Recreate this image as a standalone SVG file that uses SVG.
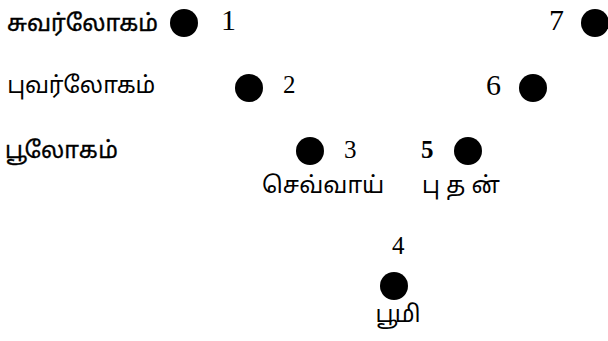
<svg xmlns="http://www.w3.org/2000/svg" width="608" height="341" viewBox="0 0 608 341">
<style>
.dot{fill:#000}
.num{font-family:"Liberation Serif","DejaVu Serif",serif;font-size:25px;fill:#000}
.big{font-size:30px}
.b{font-weight:bold}
.ta{font-family:"Noto Sans Tamil","Noto Sans","DejaVu Sans",sans-serif;font-size:23px;fill:#000}
</style>
<rect width="608" height="341" fill="#fff"/>
<g id="labels">
<text class="ta" x="7" y="31" textLength="151" lengthAdjust="spacing" stroke="#000" stroke-width="0.4">சுவர்லோகம்</text>
<text class="ta" x="7" y="93" textLength="148" lengthAdjust="spacing">புவர்லோகம்</text>
<text class="ta" x="5" y="158" textLength="113" lengthAdjust="spacing" stroke="#000" stroke-width="0.3">பூலோகம்</text>
</g>
<g id="n1"><circle class="dot" cx="184" cy="23" r="14"/><text class="num big" x="221" y="30">1</text></g>
<g id="n2"><circle class="dot" cx="249" cy="88" r="14"/><text class="num" x="283" y="93">2</text></g>
<g id="n3"><circle class="dot" cx="310" cy="151" r="14"/><text class="num" x="344" y="158">3</text><text class="ta" x="262" y="193" font-size="21">செவ்வாய்</text></g>
<g id="n4"><text class="num" x="392" y="254">4</text><circle class="dot" cx="394" cy="286" r="14"/><text class="ta" x="373" y="322" textLength="45" lengthAdjust="spacing">பூமி</text></g>
<g id="n5"><text class="num b" x="421" y="158">5</text><circle class="dot" cx="468" cy="151" r="14"/><text class="ta" x="422" y="193" textLength="78" lengthAdjust="spacing">புதன்</text></g>
<g id="n6"><text class="num big" x="486" y="95">6</text><circle class="dot" cx="533" cy="88" r="14"/></g>
<g id="n7"><text class="num big" x="549" y="30">7</text><circle class="dot" cx="595" cy="23" r="14"/></g>
<g id="connectors"></g>
</svg>
